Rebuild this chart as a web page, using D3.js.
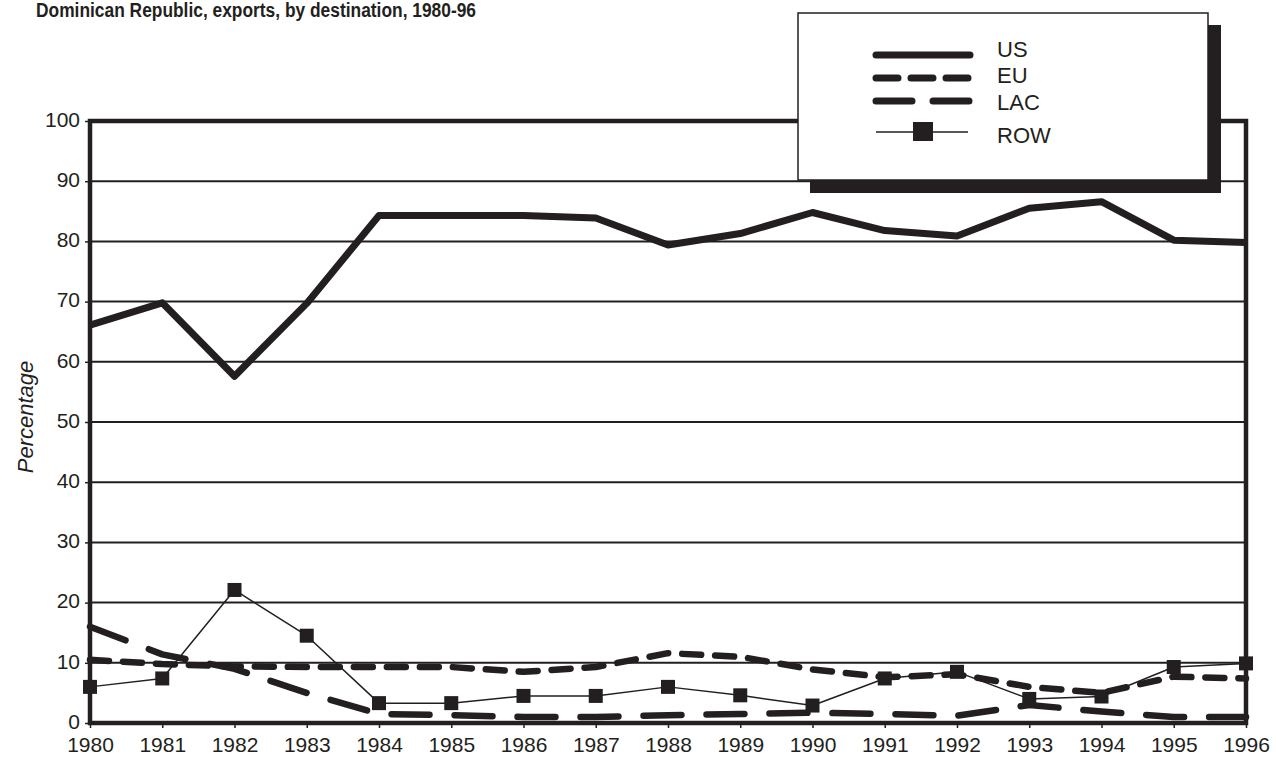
<!DOCTYPE html>
<html><head><meta charset="utf-8">
<script src="https://cdn.jsdelivr.net/npm/d3@7"></script>
<style>body{margin:0;background:#fff}svg{display:block}text{font-family:"Liberation Sans",Arial,sans-serif;fill:#231f20}</style>
</head><body><svg id="c" width="1276" height="757"></svg>
<script>
const years = [1980,1981,1982,1983,1984,1985,1986,1987,1988,1989,1990,1991,1992,1993,1994,1995,1996];
const US  = [66.1,69.8,57.6,69.7,84.3,84.3,84.3,83.9,79.4,81.3,84.8,81.8,80.9,85.5,86.6,80.2,79.8];
const EU  = [10.5,9.8,9.4,9.3,9.3,9.3,8.5,9.3,11.6,11.0,8.9,7.6,8.1,6.0,5.0,7.7,7.4];
const LAC = [16.0,11.4,9.0,5.0,1.5,1.3,1.0,1.0,1.3,1.5,1.7,1.5,1.2,3.0,1.9,1.0,1.0];
const ROW = [6.0,7.4,22.1,14.5,3.3,3.3,4.5,4.5,6.0,4.6,2.9,7.4,8.5,4.0,4.4,9.3,9.9];
const yTicks = [0,10,20,30,40,50,60,70,80,90,100];
const seriesNames = ["US","EU","LAC","ROW"];
const title = "Dominican Republic, exports, by destination, 1980-96";
const yLabel = "Percentage";

const ink = "#231f20";
const FF = "Liberation Sans, Arial, sans-serif";
const svg = d3.select("#c");
const L = 90, R = 1246, T = 121, B = 723;
const x = d3.scaleLinear().domain([1980,1996]).range([L,R]);
const y = d3.scaleLinear().domain([0,100]).range([B,T]);

svg.append("text").attr("x",36).attr("y",17).attr("font-size",20).attr("font-weight","bold")
  .attr("textLength",440).attr("lengthAdjust","spacingAndGlyphs").text(title);

// gridlines
svg.append("g").selectAll("line").data(yTicks.filter(d=>d>0&&d<100)).join("line")
  .attr("x1",L).attr("x2",R).attr("y1",d=>y(d)).attr("y2",d=>y(d))
  .attr("stroke",ink).attr("stroke-width",2);

// axes
const yAxis = d3.axisLeft(y).tickValues(yTicks).tickSize(5).tickPadding(5);
const gy = svg.append("g").attr("transform",`translate(${L},0)`).call(yAxis);
gy.select(".domain").remove();
gy.selectAll("line").attr("stroke",ink).attr("stroke-width",1.5);
gy.selectAll("text").attr("font-size",21).attr("fill",ink).attr("dy","0.25em").attr("font-family",FF);

const xAxis = d3.axisBottom(x).tickValues(years).tickFormat(d3.format("d")).tickSize(5).tickPadding(9);
const gx = svg.append("g").attr("transform",`translate(0,${B})`).call(xAxis);
gx.select(".domain").remove();
gx.selectAll("line").attr("stroke",ink).attr("stroke-width",1.5);
gx.selectAll("text").attr("font-size",21).attr("fill",ink).attr("font-family",FF);

// frame
svg.append("rect").attr("x",L).attr("y",T).attr("width",R-L).attr("height",B-T)
  .attr("fill","none").attr("stroke",ink).attr("stroke-width",4.5);

svg.append("text").attr("transform",`translate(33,417) rotate(-90)`)
  .attr("text-anchor","middle").attr("font-size",22).attr("font-style","italic").text(yLabel);

const line = d3.line().x((d,i)=>x(years[i])).y(d=>y(d));
const styles = {
  US:{w:7,dash:null},
  EU:{w:6.5,dash:"19,14"},
  LAC:{w:6.5,dash:"38,25"},
  ROW:{w:1.5,dash:null}
};
const data = {US,EU,LAC,ROW};
["LAC","EU","ROW","US"].forEach(k=>{
  const p = svg.append("path").datum(data[k]).attr("d",line).attr("fill","none")
    .attr("stroke",ink).attr("stroke-width",styles[k].w).attr("stroke-linejoin","round");
  if(styles[k].dash) p.attr("stroke-dasharray",styles[k].dash).attr("stroke-linecap","round");
});
svg.append("g").selectAll("rect").data(ROW).join("rect")
  .attr("x",(d,i)=>x(years[i])-7).attr("y",d=>y(d)-7).attr("width",14).attr("height",14).attr("fill",ink);

// legend
const lg = svg.append("g");
lg.append("rect").attr("x",810).attr("y",25).attr("width",411).attr("height",168).attr("fill",ink);
lg.append("rect").attr("x",798).attr("y",13).attr("width",410).attr("height",167).attr("fill","#fff").attr("stroke",ink).attr("stroke-width",1.5);
const ly = [55,78,101,132];
seriesNames.forEach((k,i)=>{
  const l = lg.append("line").attr("x1",876).attr("x2",970).attr("y1",ly[i]).attr("y2",ly[i]).attr("stroke",ink);
  if(k==="US") l.attr("stroke-width",7).attr("stroke-linecap","round");
  if(k==="EU") l.attr("stroke-width",7).attr("stroke-linecap","round").attr("stroke-dasharray","22,13");
  if(k==="LAC") l.attr("stroke-width",7).attr("stroke-linecap","round").attr("stroke-dasharray","36,21");
  if(k==="ROW"){ l.attr("x2",968).attr("stroke-width",1.5);
    lg.append("rect").attr("x",913).attr("y",ly[i]-10).attr("width",20).attr("height",19).attr("fill",ink); }
  lg.append("text").attr("x",997).attr("y",[57,83,110,143][i]).attr("font-size",22).text(k);
});
</script></body></html>
